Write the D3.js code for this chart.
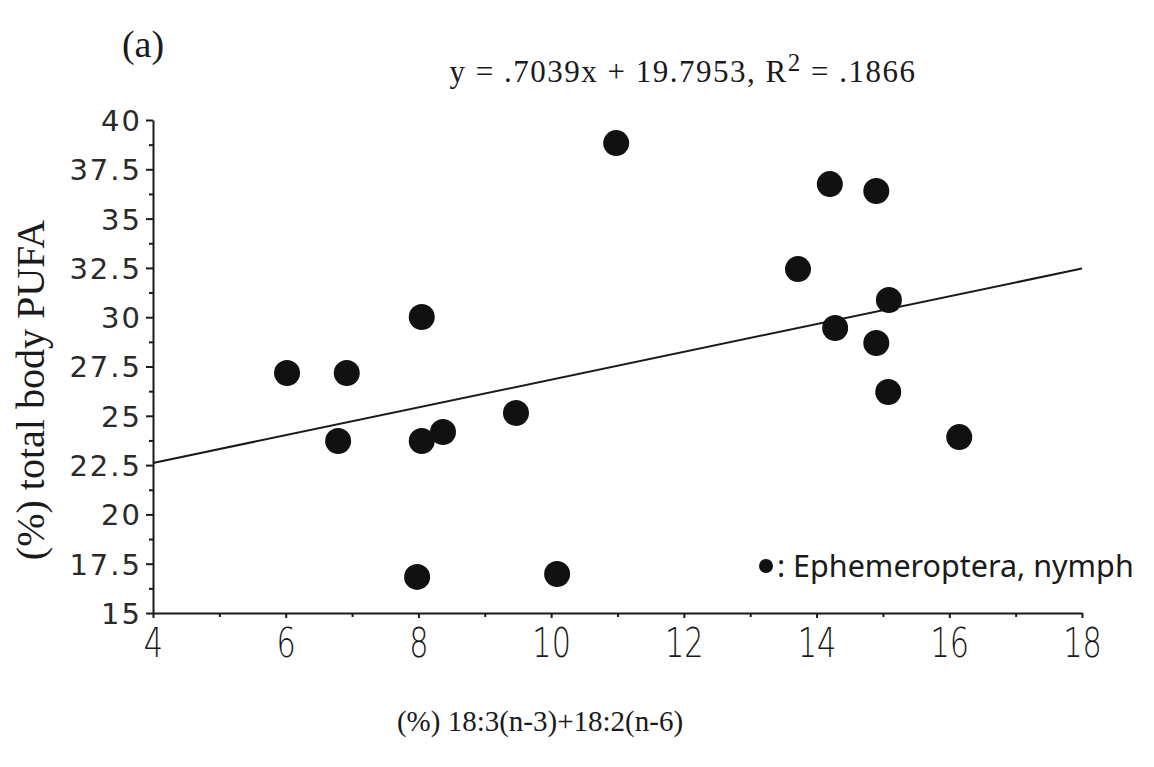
<!doctype html>
<meta charset=utf8>
<title>PUFA vs 18:3+18:2</title>
<style>
  html, body { margin: 0; background: #fff; }
  svg { display: block; }
  .serif { font-family: "Liberation Serif", "DejaVu Serif", serif; fill: #1a1a1a; }
  .ytick text { font-family: "DejaVu Sans", sans-serif; font-size: 29px; letter-spacing: 2px; fill: #2a2a2a; }
  .xtick text { font-family: "DejaVu Sans", sans-serif; font-size: 41px; font-weight: 300; fill: #1a1a1a; }
  .axis path, .axis line { stroke: #1a1a1a; stroke-width: 2; }
</style>
<svg width=1154 height=767></svg>
<script src=https://d3js.org/d3.v7.min.js></script>
<script>
  // values
  var xValues = [6.02, 6.92, 8.05, 6.79, 8.05, 8.37, 9.47, 10.98, 7.98, 10.09, 13.72, 14.20, 14.90, 15.09, 14.28, 14.90, 15.08, 16.15];
  var yValues = [27.17, 27.17, 30.01, 23.72, 23.72, 24.18, 25.14, 38.83, 16.83, 16.98, 32.44, 36.75, 36.40, 30.87, 29.45, 28.69, 26.21, 23.92];
  var xTicks = [4, 6, 8, 10, 12, 14, 16, 18];
  var xMinor = [5, 7, 9, 11, 13, 15, 17];
  var yTicks = [15, 17.5, 20, 22.5, 25, 27.5, 30, 32.5, 35, 37.5, 40];
  var yMinor = [16.25, 18.75, 21.25, 23.75, 26.25, 28.75, 31.25, 33.75, 36.25, 38.75];
  var slope = 0.7039;
  var intercept = 19.7953;

  var svg = d3.select('svg');

  var x = d3.scaleLinear().domain([4, 18]).range([153, 1082]);
  var y = d3.scaleLinear().domain([15, 40]).range([613, 120]);

  // minor ticks, no labels
  svg.append('g')
    .attr('class', 'axis')
    .attr('transform', 'translate(153,0)')
    .call(d3.axisLeft(y).tickValues(yMinor).tickSize(4).tickFormat(''))
    .select('.domain').remove();

  svg.append('g')
    .attr('class', 'axis')
    .attr('transform', 'translate(0,613)')
    .call(d3.axisBottom(x).tickValues(xMinor).tickSize(4).tickFormat(''))
    .select('.domain').remove();

  var yAxis = svg.append('g')
    .attr('class', 'axis ytick')
    .attr('transform', 'translate(153,0)')
    .call(d3.axisLeft(y).tickValues(yTicks).tickSize(7).tickSizeOuter(0).tickPadding(4)
      .tickFormat(function(d) { return d; }));
  yAxis.selectAll('text').attr('dy', '0.36em');

  var xAxis = svg.append('g')
    .attr('class', 'axis xtick')
    .attr('transform', 'translate(0,613)')
    .call(d3.axisBottom(x).tickValues(xTicks).tickSize(5).tickSizeOuter(0).tickPadding(10));
  // the scan's digits are tall and narrow
  xAxis.selectAll('.tick text')
    .attr('transform', 'scale(0.74,1)');

  // regression line
  svg.append('line')
    .attr('x1', x(4)).attr('y1', y(slope * 4 + intercept))
    .attr('x2', x(18)).attr('y2', y(slope * 18 + intercept))
    .attr('stroke', '#1a1a1a')
    .attr('stroke-width', 2);

  svg.append('g')
    .selectAll('circle')
    .data(xValues.map(function(v, i) { return [v, yValues[i]]; }))
    .enter()
    .append('circle')
    .attr('cx', function(d) { return x(d[0]); })
    .attr('cy', function(d) { return y(d[1]); })
    .attr('r', 13)
    .attr('fill', '#111');

  // legend
  svg.append('circle').attr('cx', 766).attr('cy', 566).attr('r', 7).attr('fill', '#111');
  svg.append('text')
    .attr('x', 777).attr('y', 577)
    .attr('font-family', '"Noto Sans", "Open Sans", sans-serif')
    .attr('font-size', 30.5)
    .attr('fill', '#1a1a1a')
    .text(': Ephemeroptera, nymph');

  // texts
  svg.append('text').attr('class', 'serif')
    .attr('x', 143).attr('y', 57).attr('text-anchor', 'middle').attr('font-size', 38)
    .text('(a)');

  var eq = svg.append('text').attr('class', 'serif')
    .attr('x', 683).attr('y', 82).attr('text-anchor', 'middle').attr('font-size', 31)
    .attr('letter-spacing', 1.5);
  eq.append('tspan').text('y = .7039x + 19.7953, R');
  eq.append('tspan').attr('dy', -11).attr('font-size', 25).text('2');
  eq.append('tspan').attr('dy', 11).text(' = .1866');

  svg.append('text').attr('class', 'serif')
    .attr('transform', 'translate(44,390) rotate(-90)')
    .attr('text-anchor', 'middle').attr('font-size', 40)
    .text('(%) total body PUFA');

  svg.append('text').attr('class', 'serif')
    .attr('x', 540).attr('y', 731).attr('text-anchor', 'middle').attr('font-size', 29)
    .text('(%) 18:3(n-3)+18:2(n-6)');
</script>
